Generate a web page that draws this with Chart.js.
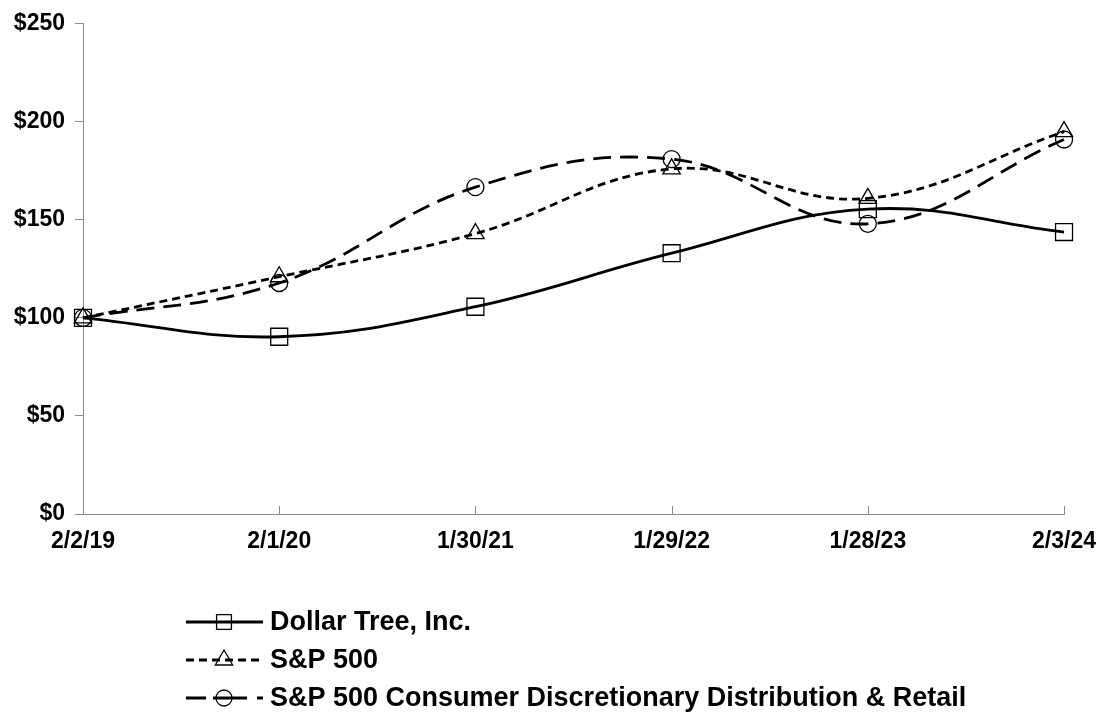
<!DOCTYPE html>
<html>
<head>
<meta charset="utf-8">
<script src="https://cdn.jsdelivr.net/npm/chart.js@4"></script>
<style>
  html, body { margin: 0; padding: 0; background: #fff; }
  #wrap { width: 1102px; height: 721px; }
</style>
</head>
<body>
<div id="wrap"><canvas id="chart" width="1102" height="721"></canvas></div>
<script>
// data
const dates = ['2/2/19', '2/1/20', '1/30/21', '1/29/22', '1/28/23', '2/3/24']
const dollarTree = [100, 90.4, 105.7, 133, 155.5, 143.8]
const sp500 = [100, 121, 143, 176, 161, 195]
const consDisc = [100, 117.8, 166.7, 181, 148, 191]
const yTicks = [0, 50, 100, 150, 200, 250]

const FONT = '"Liberation Sans", Arial, sans-serif'

// draws the short tick marks on the x axis, pointing up into the plot
const xTickMarks = {
  id: 'xTickMarks',
  afterDraw(chart) {
    const ctx = chart.ctx
    const x = chart.scales.x
    const bottom = chart.chartArea.bottom
    ctx.save()
    ctx.strokeStyle = '#8c8c8c'
    ctx.lineWidth = 1
    dates.forEach((d, i) => {
      const px = Math.round(x.getPixelForValue(i)) + 0.5
      ctx.beginPath()
      ctx.moveTo(px, bottom)
      ctx.lineTo(px, bottom - 8)
      ctx.stroke()
    })
    ctx.restore()
  }
}

// legend stacked under the plot, line sample with marker in the middle
const stackedLegend = {
  id: 'stackedLegend',
  afterDraw(chart) {
    const ctx = chart.ctx
    const rows = [622, 660, 698]
    ctx.save()
    chart.data.datasets.forEach((ds, i) => {
      const y = rows[i]
      ctx.strokeStyle = '#000'
      ctx.lineWidth = ds.borderWidth
      ctx.setLineDash(ds.legendDash || [])
      ctx.beginPath()
      ctx.moveTo(186, y)
      ctx.lineTo(263, y)
      ctx.stroke()
      ctx.setLineDash([])
      ctx.fillStyle = 'rgba(0,0,0,0)'
      ctx.lineWidth = 1.3
      Chart.helpers.drawPoint(ctx, {
        pointStyle: ds.pointStyle,
        radius: ds.legendRadius,
        borderWidth: 1.3
      }, 224, y)
      ctx.fillStyle = '#000'
      ctx.font = 'bold 27px ' + FONT
      ctx.textBaseline = 'middle'
      ctx.fillText(ds.label, 270, y + 1)
    })
    ctx.restore()
  }
}

const marker = (style, r) => ({
  pointStyle: style,
  pointRadius: r,
  pointHoverRadius: r,
  pointBorderColor: '#000',
  pointBackgroundColor: 'rgba(0,0,0,0)',
  pointBorderWidth: 1.3
})

new Chart(document.getElementById('chart'), {
  type: 'line',
  data: {
    labels: dates,
    datasets: [
      {
        label: 'Dollar Tree, Inc.',
        data: dollarTree,
        borderColor: '#000',
        borderWidth: 2.8,
        tension: 0.4,
        legendRadius: 10.5,
        ...marker('rect', 12)
      },
      {
        label: 'S&P 500',
        data: sp500,
        borderColor: '#000',
        borderWidth: 2.8,
        borderDash: [8, 5],
        legendDash: [8, 5],
        tension: 0.4,
        legendRadius: 10,
        ...marker('triangle', 10)
      },
      {
        label: 'S&P 500 Consumer Discretionary Distribution & Retail',
        data: consDisc,
        borderColor: '#000',
        borderWidth: 2.8,
        borderDash: [18, 9],
        legendDash: [20, 7, 34, 10, 7, 99],
        tension: 0.4,
        legendRadius: 8,
        ...marker('circle', 8.5)
      }
    ]
  },
  options: {
    responsive: false,
    animation: false,
    layout: { padding: { top: 22, right: 34, bottom: 172, left: 0 } },
    plugins: {
      legend: { display: false },
      tooltip: { enabled: false }
    },
    scales: {
      x: {
        offset: false,
        grid: { display: false },
        border: { color: '#8c8c8c', width: 1 },
        ticks: {
          color: '#000',
          font: { family: FONT, size: 23, weight: 'bold' },
          padding: 6,
          maxRotation: 0,
          autoSkip: false
        },
        afterFit(scale) { scale.height = 35 }
      },
      y: {
        min: 0,
        max: 250,
        afterBuildTicks(scale) { scale.ticks = yTicks.map(v => ({ value: v })) },
        grid: { drawOnChartArea: false, drawTicks: true, tickLength: 8, color: '#8c8c8c' },
        border: { color: '#8c8c8c', width: 1 },
        ticks: {
          color: '#000',
          font: { family: FONT, size: 23, weight: 'bold' },
          padding: 10,
          callback: v => '$' + v
        },
        afterFit(scale) { scale.width = 83 }
      }
    }
  },
  plugins: [xTickMarks, stackedLegend]
})
</script>
</body>
</html>
